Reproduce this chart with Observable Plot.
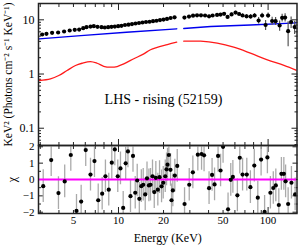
<!DOCTYPE html>
<html><head><meta charset="utf-8">
<script src="https://cdn.jsdelivr.net/npm/d3@7"></script>
<script src="https://cdn.jsdelivr.net/npm/@observablehq/plot@0.6"></script>
<style>
html,body{margin:0;padding:0;background:#fff;}
#chart{position:relative;width:300px;height:248px;}
#chart svg{position:absolute;left:0;}
</style></head><body><div id="chart"></div>
<script>
// ---- spectrum (E^2 F) data points ----
const specEnergy = [3.09,3.30,3.60,3.95,4.33,4.72,5.10,5.46,5.81,6.11,6.50,6.84,7.24,7.70,8.10,8.53,8.98,9.45,9.95,10.47,11.05,11.67,12.31,12.99,13.71,14.47,15.27,16.13,17.02,17.96,18.95,20.0,21.1,22.3,23.7,
  27.6,29.6,31.5,33.5,35.6,37.9,40.3,42.6,45.6,48.1,50.8,53.6,57.0,60.6,64.0,67.5,71.8,76.4,81.2,86.4,91.2,96.2,100,106.4,112.2,119.4,124.1,129.9,136.1,142.5,150.4];
const specFlux = [5.36,5.52,5.75,5.83,6.09,6.35,6.54,6.62,7.00,7.30,7.52,7.62,7.43,7.30,7.21,7.30,7.43,7.52,7.62,7.75,8.02,8.13,8.34,8.55,8.73,8.92,9.11,9.22,9.42,9.62,9.91,10.1,10.4,10.8,11.1,
  11.0,11.5,11.9,12.1,12.1,12.0,11.6,12.0,12.3,12.5,12.9,11.3,12.6,13.6,12.8,12.0,11.6,11.5,12.0,9.71,12.0,8.02,12.0,9.50,9.43,7.85,10.9,11.0,6.17,9.11,7.36];
const specErr = [0.06,0.06,0.06,0.06,0.07,0.07,0.07,0.07,0.07,0.08,0.08,0.08,0.08,0.08,0.08,0.09,0.09,0.09,0.09,0.1,0.1,0.1,0.1,0.11,0.11,0.11,0.12,0.12,0.12,0.13,0.13,0.14,0.14,0.15,0.15,
  0.35,0.35,0.35,0.4,0.4,0.45,0.5,0.5,0.55,0.6,0.65,0.7,0.75,0.8,0.85,0.9,1.0,1.0,1.1,1.3,1.2,1.7,1.3,1.6,1.6,1.7,1.8,1.9,3.0,2.2,2.0];

// ---- model components ----
const redEnergy = [2.95,3.51,3.99,4.53,5.16,5.71,6.50,7.20,7.97,8.84,9.80,10.85,12.66,14.77,16.37,21.2,24.5, 27.3,35.4,45.7,58.9,76.2,98.9,127.6,156];
const redFlux   = [0.76,0.815,0.938,1.16,1.435,1.58,1.70,1.58,1.39,1.335,1.375,1.54,1.91,2.36,2.80,3.50,3.88, 4.03,4.03,3.70,3.12,2.42,1.83,1.44,1.16];
const redSeg    = ["PCA","PCA","PCA","PCA","PCA","PCA","PCA","PCA","PCA","PCA","PCA","PCA","PCA","PCA","PCA","PCA","PCA","HEXTE","HEXTE","HEXTE","HEXTE","HEXTE","HEXTE","HEXTE","HEXTE"];
const blueEnergy = [2.95,5.6,11.3,24.5, 27.3,41.3,76.2,156];
const blueFlux   = [4.45,5.1,5.9,6.82, 6.9,7.52,8.0,8.8];
const blueSeg    = ["PCA","PCA","PCA","PCA","HEXTE","HEXTE","HEXTE","HEXTE"];

// ---- residuals (chi) ----
const residEnergy = [3.14,3.55,3.97,4.37,4.80,5.24,5.63,6.04,6.50,6.91,7.32,7.78,8.18,8.61,9.02,9.45,9.89,10.31,10.75,11.17,
  11.57,12.03,12.50,12.94,13.34,13.78,14.21,14.63,15.09,15.51,15.97,16.37,16.88,17.34,17.77,18.32,18.81,19.40,19.91,20.54,
  20.95,21.27,21.70,22.27,22.62,23.08,23.80,24.70,
  27.64,29.71,31.41,33.91,35.91,37.32,40.31,42.22,43.86,46.30,48.12,50.0,53.99,56.29,58.14,62.32,64.67,67.52,72.04,76.14,
  80.86,85.33,89.78,94.76,98.93,103.6,108.3,112.6,117.9,122.7,127.4,130.9,136.1,143.2,151.6];
const residChi = [-0.41,1.19,-0.83,-0.12,1.50,-1.92,-1.35,1.80,0.30,1.13,-1.27,-0.87,0.20,-0.62,1.03,1.84,0.20,0.68,-1.74,0.99,
  1.72,-1.02,1.44,-0.81,-0.06,-1.18,-0.41,-0.32,-0.91,0.07,-0.36,-0.32,0.20,-0.77,0.10,-0.62,0.14,-0.42,-0.20,0.20,
  0.62,0.91,1.50,0.59,-1.27,-0.67,0.24,0.83,
  -1.50,-0.32,0.44,1.52,1.56,1.48,-0.53,0.28,-0.30,1.44,0.55,2.0,-1.82,-0.02,0.16,-0.97,1.33,0.30,0.30,-0.47,
  0.85,-1.11,1.22,-1.98,1.35,-0.81,-0.52,-0.36,-1.56,0.35,0.35,-0.11,-1.50,-0.20,-0.91];

// ---- ticks & labels ----
const xTickLabels = [5,10,20,50,100];
const xMajor = [10,100];
const xMinor = [3,4,5,6,7,8,9,20,30,40,50,60,70,80,90];
const yTopLabels = [0.1,1,10];
const yTopMinor = [0.05,0.06,0.07,0.08,0.09,0.2,0.3,0.4,0.5,0.6,0.7,0.8,0.9,2,3,4,5,6,7,8,9];
const yResLabels = [-2,-1,0,1,2];
const yResMinor = [-1.5,-0.5,0.5,1.5];
const annotation = [{E: 20, v: 0.34, text: "LHS - rising (52159)"}];

const spec = specEnergy.map((E,i)=>({E, v: specFlux[i], err: specErr[i]}));
const red = redEnergy.map((E,i)=>({E, v: redFlux[i], seg: redSeg[i]}));
const blue = blueEnergy.map((E,i)=>({E, v: blueFlux[i], seg: blueSeg[i]}));
const resid = residEnergy.map((E,i)=>({E, chi: residChi[i]}));

const font = '"Liberation Serif","Times New Roman",serif';
const ink = "#222";
const xDomain = [2.92, 156];
const intFmt = d3.format("d");

function frameTicks() {
  return [
    Plot.axisX({ticks: xMajor, anchor: "top", tickSize: -6, fill: "none", stroke: ink, label: null}),
    Plot.axisX({ticks: xMinor, anchor: "top", tickSize: -3, fill: "none", stroke: ink, label: null}),
    Plot.axisX({ticks: xMajor, anchor: "bottom", tickSize: -6, fill: "none", stroke: ink, label: null}),
    Plot.axisX({ticks: xMinor, anchor: "bottom", tickSize: -3, fill: "none", stroke: ink, label: null})
  ];
}

const topPlot = Plot.plot({
  width: 300, height: 146, marginLeft: 38, marginRight: 3.5, marginTop: 3, marginBottom: 1,
  style: {fontFamily: font, fontSize: "12px", background: "transparent", overflow: "visible", color: ink},
  x: {type: "log", domain: xDomain, axis: null},
  y: {type: "log", domain: [0.048, 20], axis: null},
  marks: [
    ...frameTicks(),
    Plot.axisY({ticks: yTopLabels, anchor: "left", tickSize: -6, fill: "none", stroke: ink, label: null}),
    Plot.axisY({ticks: yTopMinor, anchor: "left", tickSize: -3, fill: "none", stroke: ink, label: null}),
    Plot.axisY({ticks: yTopLabels, anchor: "right", tickSize: -6, fill: "none", stroke: ink, label: null}),
    Plot.axisY({ticks: yTopMinor, anchor: "right", tickSize: -3, fill: "none", stroke: ink, label: null}),
    Plot.axisY({ticks: yTopLabels, anchor: "left", tickSize: 0, tickPadding: 4, tickFormat: d => String(d), fill: "black", fontSize: 12, label: null}),
    Plot.line(blue, {x: "E", y: "v", z: "seg", stroke: "#0000ee", strokeWidth: 1.4, clip: true}),
    Plot.line(red, {x: "E", y: "v", z: "seg", stroke: "#ff1a1a", strokeWidth: 1.3, curve: "catmull-rom", clip: true}),
    Plot.ruleX(spec, {x: "E", y1: d => d.v - d.err, y2: d => d.v + d.err, stroke: "#555", strokeWidth: 1.2, clip: true}),
    Plot.dot(spec, {x: "E", y: "v", r: 2.1, fill: "black", stroke: "none", clip: true}),
    Plot.text(annotation, {x: "E", y: "v", text: "text", fontSize: 14, fill: "black", textAnchor: "middle"}),
    Plot.text(["KeV\u00B2 (Photons cm\u207B\u00B2 s\u207B\u00B9 KeV\u207B\u00B9)"], {frameAnchor: "left", dx: -30, rotate: -90, textAnchor: "middle", lineAnchor: "middle", fontSize: 11.5, fill: "black"}),
    Plot.frame({stroke: ink, strokeWidth: 1.5})
  ]
});

const botPlot = Plot.plot({
  width: 300, height: 103, marginLeft: 38, marginRight: 3.5, marginTop: 0, marginBottom: 35,
  style: {fontFamily: font, fontSize: "11px", background: "transparent", overflow: "visible", color: ink},
  x: {type: "log", domain: xDomain, axis: null},
  y: {domain: [-2.08, 2.08], axis: null},
  marks: [
    ...frameTicks(),
    Plot.axisX({ticks: xTickLabels, anchor: "bottom", tickSize: 0, tickPadding: 3, tickFormat: d => String(d), fill: "black", fontSize: 11, label: null}),
    Plot.axisY({ticks: yResLabels, anchor: "left", tickSize: -5, fill: "none", stroke: ink, label: null}),
    Plot.axisY({ticks: yResMinor, anchor: "left", tickSize: -3, fill: "none", stroke: ink, label: null}),
    Plot.axisY({ticks: yResLabels, anchor: "right", tickSize: -5, fill: "none", stroke: ink, label: null}),
    Plot.axisY({ticks: yResMinor, anchor: "right", tickSize: -3, fill: "none", stroke: ink, label: null}),
    Plot.axisY({ticks: yResLabels, anchor: "left", tickSize: 0, tickPadding: 4, tickFormat: intFmt, fill: "black", fontSize: 11, label: null}),
    Plot.ruleX(resid, {x: "E", y1: d => d.chi - 1, y2: d => d.chi + 1, stroke: "#aaaaaa", strokeWidth: 1.3, clip: true}),
    Plot.ruleY([0], {stroke: "#ff00ff", strokeWidth: 2, clip: true}),
    Plot.dot(resid, {x: "E", y: "chi", r: 2.1, fill: "black", stroke: "none", clip: true}),
    Plot.text(["Energy (KeV)"], {frameAnchor: "bottom", dy: 25, textAnchor: "middle", fontSize: 12, fill: "black", lineAnchor: "middle"}),
    Plot.text(["\u03C7"], {frameAnchor: "left", dx: -26, rotate: -90, textAnchor: "middle", lineAnchor: "middle", fontSize: 12, fill: "black"}),
    Plot.frame({stroke: ink, strokeWidth: 1.5})
  ]
});

const chart = document.getElementById("chart");
topPlot.style.top = "0px";
botPlot.style.top = "145px";
chart.appendChild(topPlot);
chart.appendChild(botPlot);
</script>
</body></html>
